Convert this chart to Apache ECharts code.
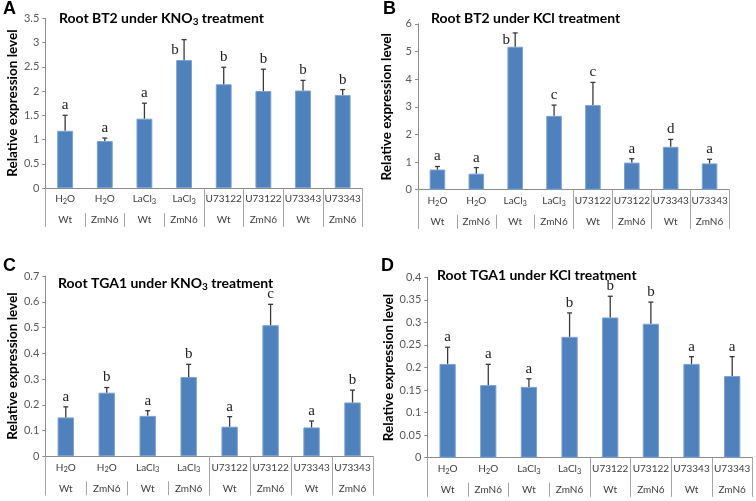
<!DOCTYPE html>
<html><head><meta charset="utf-8">
<script src="https://cdn.jsdelivr.net/npm/echarts@6/dist/echarts.min.js"></script>
<style>html,body{margin:0;padding:0;background:#fff}#c{width:756px;height:501px}</style>
</head><body><div id="c"></div>
<script>
// ---- data ----
const treatments = ['H2O','H2O','LaCl3','LaCl3','U73122','U73122','U73343','U73343'];
const genotypes  = ['Wt','ZmN6','Wt','ZmN6','Wt','ZmN6','Wt','ZmN6'];

const valuesA  = [1.18, 0.97, 1.43, 2.64, 2.14, 2.00, 2.01, 1.92];
const errorsA  = [0.32, 0.06, 0.32, 0.42, 0.35, 0.45, 0.21, 0.11];
const lettersA = ['a','a','a','b','b','b','b','b'];

const valuesB  = [0.73, 0.58, 5.17, 2.67, 3.06, 0.98, 1.55, 0.95];
const errorsB  = [0.11, 0.22, 0.50, 0.39, 0.82, 0.14, 0.27, 0.15];
const lettersB = ['a','a','b','c','c','a','d','a'];

const valuesC  = [0.151, 0.247, 0.157, 0.308, 0.115, 0.509, 0.112, 0.209];
const errorsC  = [0.041, 0.020, 0.020, 0.049, 0.039, 0.081, 0.025, 0.048];
const lettersC = ['a','b','a','b','a','c','a','b'];

const valuesD  = [0.208, 0.161, 0.157, 0.268, 0.311, 0.297, 0.208, 0.181];
const errorsD  = [0.037, 0.046, 0.018, 0.053, 0.047, 0.048, 0.016, 0.043];
const lettersD = ['a','a','a','b','b','b','a','a'];

const yMaxA = 3.5, yStepA = 0.5;
const yMaxB = 6,   yStepB = 1;
const yMaxC = 0.7, yStepC = 0.1;
const yMaxD = 0.4, yStepD = 0.05;

const titleA = 'Root BT2 under KNO{s|3} treatment';
const titleB = 'Root BT2 under KCl treatment';
const titleC = 'Root TGA1 under KNO{s|3} treatment';
const titleD = 'Root TGA1 under KCl treatment';
const yName = 'Relative expression level';

// ---- layout / style ----
const panels = [
  {tag:'A', values:valuesA, errors:errorsA, letters:lettersA, yMax:yMaxA, yStep:yStepA, title:titleA,
   grid:{left:45.3, right:393.5, top:18.3, bottom:313}, tagPos:[3,0], titlePos:[59,9], side:[3]},
  {tag:'B', values:valuesB, errors:errorsB, letters:lettersB, yMax:yMaxB, yStep:yStepB, title:titleB,
   grid:{left:418, right:27, top:23.8, bottom:311.3}, tagPos:[383,0], titlePos:[431,9], side:[2]},
  {tag:'C', values:valuesC, errors:errorsC, letters:lettersC, yMax:yMaxC, yStep:yStepC, title:titleC,
   grid:{left:45.3, right:383, top:276, bottom:44.7}, tagPos:[3,257], titlePos:[58,274], side:[]},
  {tag:'D', values:valuesD, errors:errorsD, letters:lettersD, yMax:yMaxD, yStep:yStepD, title:titleD,
   grid:{left:427.3, right:3.5, top:277.3, bottom:43.3}, tagPos:[381,257], titlePos:[437,266], side:[]}
];

const BAR = '#4f81bd', ERR = '#3a3a3a', AXIS = '#8c8c8c';
const SANS = 'Lato';

function catFormatter(v) {
  if (v === 'H2O') return 'H{s|2}O';
  if (v === 'LaCl3') return 'LaCl{s|3}';
  return v;
}

const option = {
  animation: false,
  backgroundColor: '#fff',
  title: [], grid: [], xAxis: [], yAxis: [], series: []
};

panels.forEach((p, k) => {
  option.title.push({
    text: p.tag, left: p.tagPos[0], top: p.tagPos[1], padding: 0,
    textStyle: {fontFamily: 'Liberation Sans', fontWeight: 'bold', fontSize: 18, color: '#000'}
  });
  option.title.push({
    text: p.title, left: p.titlePos[0], top: p.titlePos[1], padding: 0,
    textStyle: {fontFamily: SANS, fontWeight: 'bold', fontSize: 14, lineHeight: 18, color: '#000',
      rich: {s: {fontFamily: SANS, fontWeight: 'bold', fontSize: 10, lineHeight: 10, padding: [8,0,0,0], color: '#000'}}}
  });
  option.grid.push(Object.assign({containLabel: false}, p.grid));
  option.xAxis.push({
    gridIndex: k, type: 'category', data: treatments, position: 'bottom',
    axisLine: {show: true, lineStyle: {color: AXIS, width: 1}},
    axisTick: {show: true, length: 39, interval: (idx) => idx === 0 || idx >= 4, lineStyle: {color: '#a6a6a6'}},
    axisLabel: {show: true, interval: 0, margin: 6, color: '#404040', fontFamily: SANS, fontSize: 10,
      formatter: catFormatter,
      rich: {s: {fontFamily: SANS, fontSize: 7.5, lineHeight: 8, padding: [5,0,0,0], color: '#404040'}}},
    splitLine: {show: false}
  });
  option.xAxis.push({
    gridIndex: k, type: 'category', data: genotypes, position: 'bottom', offset: 25,
    axisLine: {show: false},
    axisTick: {show: true, length: 14, interval: 0, lineStyle: {color: '#a6a6a6'}},
    axisLabel: {show: true, interval: 0, margin: 2, color: '#404040', fontFamily: SANS, fontSize: 10},
    splitLine: {show: false}
  });
  option.yAxis.push({
    gridIndex: k, type: 'value', min: 0, max: p.yMax, interval: p.yStep,
    splitLine: {show: false},
    axisLine: {show: true, lineStyle: {color: AXIS, width: 1}},
    axisTick: {show: true, length: 3, lineStyle: {color: AXIS}},
    axisLabel: {color: '#595959', fontFamily: SANS, fontSize: 11, margin: 6},
    name: yName, nameLocation: 'middle', nameGap: 24,
    nameTextStyle: {fontFamily: SANS, fontWeight: 'bold', fontSize: 13.5, color: '#000'}
  });
  option.series.push({
    type: 'bar', xAxisIndex: 2 * k, yAxisIndex: k, data: p.values, barWidth: '40%',
    itemStyle: {color: BAR, borderColor: '#7da2d2', borderWidth: 1},
    z: 2
  });
  option.series.push({
    type: 'custom', xAxisIndex: 2 * k, yAxisIndex: k, z: 3,
    data: p.values.map((v, i) => [i, v, p.errors[i]]),
    renderItem: function (params, api) {
      const i = api.value(0), v = api.value(1), e = api.value(2);
      const base = api.coord([i, v]);
      const top = api.coord([i, v + e]);
      const x = base[0];
      const side = p.side.indexOf(i) >= 0;
      const tx = side ? x - 9 : x;
      const ty = side ? (top[1] + base[1]) / 2 : top[1] - 10;
      return {
        type: 'group',
        children: [
          {type: 'line', shape: {x1: x, y1: base[1], x2: x, y2: top[1]}, style: {stroke: ERR, lineWidth: 1.3}},
          {type: 'line', shape: {x1: x - 2.5, y1: top[1], x2: x + 2.5, y2: top[1]}, style: {stroke: ERR, lineWidth: 1.3}},
          {type: 'text', style: {x: tx, y: ty, text: p.letters[i], fill: '#222',
            font: '15px "Liberation Serif"', align: 'center', verticalAlign: 'middle'}}
        ]
      };
    }
  });
});

const chart = echarts.init(document.getElementById('c'), null, {renderer: 'canvas'});
chart.setOption(option);
</script>
</body></html>
